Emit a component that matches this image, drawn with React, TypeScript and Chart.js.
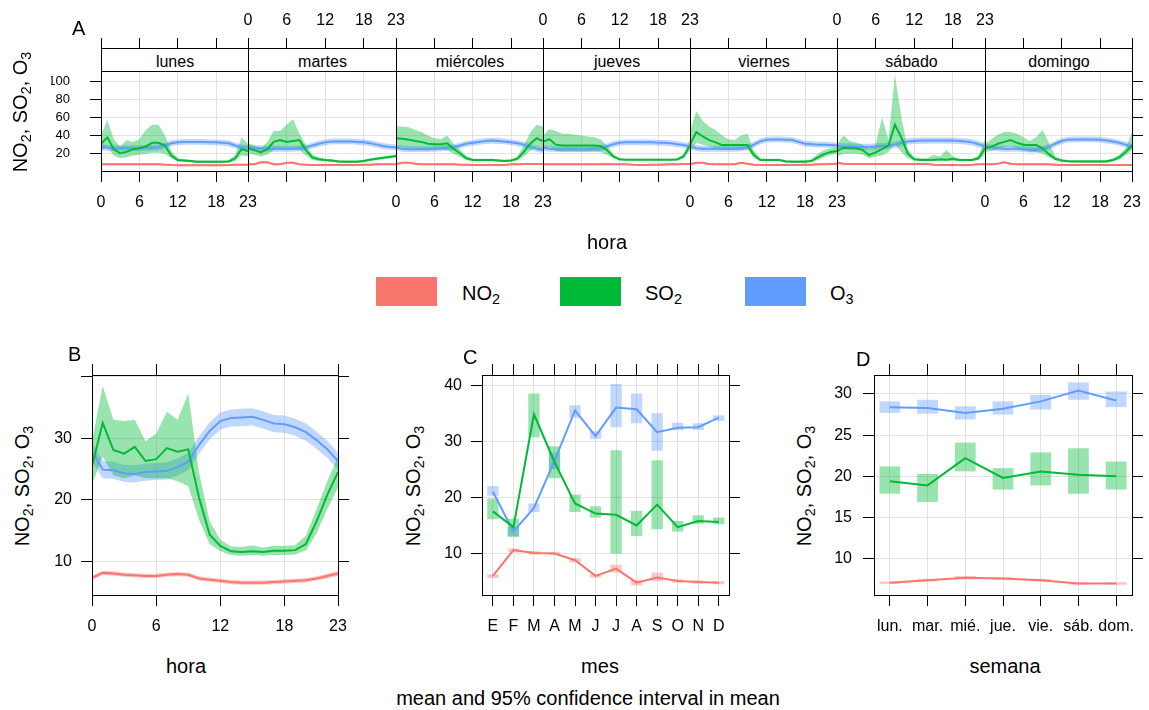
import React, { useEffect, useRef } from "react";
import { Chart, registerables } from "chart.js";

Chart.register(...registerables);

const FONT = "'Liberation Sans', Arial, Helvetica, sans-serif";
Chart.defaults.font.family = FONT;
Chart.defaults.color = "#000";

// ---------- colours ----------
const C_NO2 = "#F8766D";
const C_SO2 = "#00BA38";
const C_O3 = "#619CFF";
const GRID = "#E3E3E3";

// ---------- shared categories / ticks ----------
const hours = [0, 1, 2, 3, 4, 5, 6, 7, 8, 9, 10, 11, 12, 13, 14, 15, 16, 17, 18, 19, 20, 21, 22, 23];
const hourTicks = [0, 6, 12, 18, 23];
const dayNames = ["lunes", "martes", "miércoles", "jueves", "viernes", "sábado", "domingo"];
const aYTicks = [20, 40, 60, 80, 100];
const bYTicks = [10, 20, 30, 40];
const months = ["E", "F", "M", "A", "M", "J", "J", "A", "S", "O", "N", "D"];
const monthPos = [1, 2, 3, 4, 5, 6, 7, 8, 9, 10, 11, 12];
const cYTicks = [10, 20, 30, 40];
const weekDays = ["lun.", "mar.", "mié.", "jue.", "vie.", "sáb.", "dom."];
const weekPos = [1, 2, 3, 4, 5, 6, 7];
const dYTicks = [10, 15, 20, 25, 30];

// ---------- Panel A : hour x day ----------
const aNO2Lun = [8.5, 8.5, 8.5, 8.5, 8.5, 8.5, 8.5, 8.5, 8.5, 8.5, 8, 7.5, 7.3, 7.3, 7.3, 7.3, 7.3, 7.3, 7.3, 7.3, 7.5, 7.8, 8, 8];
const aNO2Mar = [8.5, 8.5, 10.5, 10.5, 8.5, 8.5, 10, 10, 8.5, 8, 7.7, 7.6, 7.6, 7.6, 7.6, 7.6, 7.6, 7.6, 8, 8, 8.5, 8.5, 8.5, 8.5];
const aNO2Mie = [8.8, 10, 10, 9, 8.5, 8.5, 8.5, 8.5, 8.5, 8.5, 8, 7.8, 7.6, 7.6, 7.6, 7.6, 7.6, 7.6, 8.5, 8.5, 8.7, 8.7, 8.7, 8.7];
const aNO2Jue = [8.5, 8.5, 8.5, 8.5, 8.5, 8.5, 8.5, 8.5, 8.5, 8.5, 8.7, 8.5, 8.5, 8.5, 7.8, 7.6, 7.6, 7.8, 8, 8.2, 8.4, 8.5, 8.6, 8.6];
const aNO2Vie = [8.5, 10, 10, 8.7, 8.5, 8.5, 8.5, 8.5, 10, 9, 8, 7.7, 7.6, 7.6, 7.6, 7.6, 7.6, 7.6, 7.8, 8, 8.3, 8.5, 8.7, 9];
const aNO2Sab = [10, 9, 8.7, 8.7, 8.7, 8.7, 8.7, 8.7, 8.7, 8.7, 8.7, 8.7, 8.7, 8.7, 8.7, 8, 7.6, 7.6, 7.6, 7.6, 7.6, 7.8, 8.3, 8.5];
const aNO2Dom = [8.5, 8.5, 9, 10.5, 9, 8.5, 8.5, 8.5, 8.5, 8.5, 8.5, 8, 7.6, 7.6, 7.6, 7.6, 7.6, 7.6, 7.6, 7.6, 7.6, 7.6, 7.6, 7.6];
const aNO2HalfCI = [1.1, 1.1, 1.1, 1.1, 1.1, 1.1, 1.1];

const aSO2Lun = [31, 38, 25, 20.5, 22, 25, 26, 28, 32, 32, 29, 18, 13, 12.5, 12, 11.2, 11.2, 11.2, 11.2, 11.2, 11.5, 15, 25, 23];
const aSO2LoLun = [23, 27, 18, 15, 16, 18, 19, 20, 21, 21, 20, 15, 11.5, 11, 10.5, 10, 10, 10, 10, 10, 10.3, 12, 18, 17];
const aSO2HiLun = [40, 57, 36, 28, 35, 33, 36, 46, 52, 52, 40, 23, 15, 14, 13.5, 12.5, 12.5, 12.5, 12.5, 12.5, 13, 19, 38, 31];
const aSO2Mar = [26, 24, 21.5, 25, 33, 35, 33, 34, 35, 24, 16, 14, 13.1, 12.5, 11.5, 11.3, 11.3, 11.3, 12, 13.5, 14.5, 15.5, 16.5, 17.5];
const aSO2LoMar = [20, 19, 17, 19, 24, 25, 24, 25, 24, 18, 13, 12, 11.8, 11, 10.3, 10.2, 10.2, 10.2, 10.8, 12, 13, 14, 15, 15.5];
const aSO2HiMar = [32, 29, 26, 33, 45, 45, 52, 58, 42, 30, 19, 16, 14.5, 14, 13, 12.8, 12.8, 12.8, 13.5, 15, 16, 17, 18, 19.5];
const aSO2Mie = [37, 36.5, 35.5, 34, 33, 31, 30.5, 30.5, 31.5, 25.5, 20.5, 15, 13.1, 13.1, 13.1, 13.1, 12.5, 12, 12.5, 14.5, 22, 31, 37, 34];
const aSO2LoMie = [28, 27, 26, 26, 25, 24, 24, 24, 24, 20, 16.5, 13, 12, 12, 12, 12, 11.3, 10.8, 11.3, 12.5, 17, 23, 27, 25];
const aSO2HiMie = [50, 50, 49, 46, 44, 40, 37, 36, 40, 31, 25, 17.5, 14.5, 14.5, 14.5, 14.5, 14, 13.5, 14, 17, 29, 43, 52, 50];
const aSO2Jue = [33, 36, 30, 29, 29, 29, 29, 29, 29, 28.5, 24, 17, 13.8, 13.5, 13.5, 13.5, 13.5, 13.5, 13.5, 13.5, 13.5, 13.7, 17, 29];
const aSO2LoJue = [26, 28, 23, 22.5, 22.5, 22.5, 22.5, 22.5, 22.5, 22, 19, 15, 12.5, 12.5, 12.5, 12.5, 12.5, 12.5, 12.5, 12.5, 12.5, 12.5, 15, 23];
const aSO2HiJue = [40, 47, 45, 42, 42, 41, 40, 39, 38, 36, 29, 19.5, 15, 14.5, 14.5, 14.5, 14.5, 14.5, 14.5, 14.5, 14.5, 15, 20, 36];
const aSO2Vie = [30, 44, 39, 35, 32.5, 29.5, 29.5, 29.5, 29.5, 29.5, 18.5, 13.1, 13.1, 13.1, 13.1, 11.5, 11.3, 11.3, 11.3, 12, 16, 19.5, 22, 23];
const aSO2LoVie = [22, 32, 30, 28, 26, 24, 24, 24, 24, 25, 15, 12, 12, 12, 12, 10.5, 10.3, 10.3, 10.5, 11, 13, 16, 18.5, 20];
const aSO2HiVie = [45, 67, 56, 50, 46, 40, 36, 35, 40, 42, 23, 15, 14.5, 14.5, 14.5, 13, 12.8, 12.8, 13, 14, 20, 24, 26, 27];
const aSO2Sab = [23, 26.5, 26, 26, 24, 18.5, 21.5, 25, 29, 52, 38, 20, 14, 13.1, 13.1, 13.1, 14, 13.5, 14.5, 13.1, 13.1, 13.1, 15, 26];
const aSO2LoSab = [17, 20, 20, 20, 19, 15, 17, 18, 22, 30, 22, 15, 12.5, 12, 12, 12, 12, 12, 12, 12, 12, 12, 13, 19];
const aSO2HiSab = [30, 40, 34, 32, 30, 25, 30, 60, 35, 107, 60, 25, 15.5, 15, 15, 19, 17, 24, 17, 14.5, 14.5, 14.5, 18, 36];
const aSO2Dom = [26, 27.5, 31, 33, 35, 32, 30, 29.5, 29.5, 26, 19.5, 14.5, 12.5, 11.7, 11.5, 11.5, 11.5, 11.5, 11.5, 11.5, 13, 16, 22, 29];
const aSO2LoDom = [22, 23, 25, 27, 28, 26, 24, 22, 22, 20, 16, 12.5, 11.3, 10.5, 10.3, 10.3, 10.3, 10.3, 10.3, 10.3, 11.5, 13.5, 18, 24];
const aSO2HiDom = [31, 36, 41, 44, 44, 42, 38, 34, 38, 46, 32, 17, 14, 13, 13, 13, 13, 13, 13, 13, 15, 19, 26, 43];

const aO3Lun = [28, 26.5, 26, 26, 26, 26, 26, 26.5, 26.5, 27, 29, 31.5, 32.5, 33, 33, 33, 33, 32.5, 32.5, 32, 31.5, 29, 27, 26.5];
const aO3Mar = [27, 26, 26, 25.5, 25.5, 25.5, 25.5, 25.5, 26, 27, 29, 31, 32.5, 33.5, 33.5, 33.5, 33.5, 33, 32.5, 31.5, 30, 28.5, 27.5, 27];
const aO3Mie = [27, 25.5, 25, 25, 25, 25, 25.5, 26, 26.5, 27, 29, 31, 32, 33, 34, 34.5, 34, 33.5, 32.5, 31.5, 30, 27.5, 25.5, 24];
const aO3Jue = [26.5, 25.5, 25, 25, 25, 25, 25, 25, 25.5, 26, 28, 30.5, 32, 32.5, 32.5, 32.5, 32.5, 32.5, 32, 32, 31.5, 30.5, 29.5, 28];
const aO3Vie = [28, 26, 25.5, 25.5, 25.5, 25.5, 25.5, 25.5, 26, 27, 30, 33.5, 35.5, 35.7, 35.7, 35.5, 35, 33, 31, 30.5, 30, 30, 29.5, 29];
const aO3Sab = [28.5, 28, 28, 27.5, 27.5, 27.5, 28, 28.5, 29, 30, 32, 33.5, 34, 34.5, 34.5, 34.5, 34.5, 34.5, 34.5, 34, 33.5, 32.5, 30.5, 28];
const aO3Dom = [28, 27, 26, 25.5, 25.5, 25.5, 25, 24.5, 24.5, 25, 27.5, 31, 34, 35.5, 35.7, 35.7, 35.7, 35.7, 35.5, 34.5, 33.5, 32, 30, 28];
const aO3HalfCI = [3.2, 3.2, 3.2, 3.2, 3.2, 3.4, 3.2];

const aNO2 = [aNO2Lun, aNO2Mar, aNO2Mie, aNO2Jue, aNO2Vie, aNO2Sab, aNO2Dom];
const aSO2 = [aSO2Lun, aSO2Mar, aSO2Mie, aSO2Jue, aSO2Vie, aSO2Sab, aSO2Dom];
const aSO2Lo = [aSO2LoLun, aSO2LoMar, aSO2LoMie, aSO2LoJue, aSO2LoVie, aSO2LoSab, aSO2LoDom];
const aSO2Hi = [aSO2HiLun, aSO2HiMar, aSO2HiMie, aSO2HiJue, aSO2HiVie, aSO2HiSab, aSO2HiDom];
const aO3 = [aO3Lun, aO3Mar, aO3Mie, aO3Jue, aO3Vie, aO3Sab, aO3Dom];

// ---------- Panel B : hour ----------
const bNO2 = [7.3, 8.1, 8.0, 7.8, 7.7, 7.6, 7.6, 7.8, 7.9, 7.8, 7.2, 7.0, 6.8, 6.6, 6.5, 6.5, 6.5, 6.6, 6.7, 6.8, 6.9, 7.2, 7.6, 8.0];
const bNO2Lo = [6.95, 7.75, 7.65, 7.45, 7.35, 7.25, 7.25, 7.45, 7.55, 7.45, 6.85, 6.65, 6.45, 6.25, 6.15, 6.15, 6.15, 6.25, 6.35, 6.45, 6.55, 6.85, 7.2, 7.55];
const bNO2Hi = [7.65, 8.45, 8.35, 8.15, 8.05, 7.95, 7.95, 8.15, 8.25, 8.15, 7.55, 7.35, 7.15, 6.95, 6.85, 6.85, 6.85, 6.95, 7.05, 7.15, 7.25, 7.55, 8.0, 8.45];
const bSO2 = [25.5, 32.5, 28.1, 27.5, 28.6, 26.3, 26.6, 28.4, 27.8, 28.2, 20.4, 14.3, 12.5, 11.6, 11.5, 11.6, 11.5, 11.7, 11.7, 11.8, 12.8, 16.5, 20.8, 24.5];
const bSO2Lo = [22.5, 27, 24, 23.5, 24, 23.5, 23.5, 23.5, 23, 22.2, 16.8, 12.8, 11.6, 11, 10.9, 11, 10.9, 11, 11, 11.1, 11.8, 14.5, 18.5, 22];
const bSO2Hi = [29.5, 38.5, 33, 32.8, 33, 29.5, 30.8, 34.3, 33, 37.3, 24.5, 16.5, 13.5, 12.4, 12.3, 12.6, 12.2, 12.5, 12.5, 12.6, 14.2, 18.5, 23, 27];
const bO3 = [27.8, 24.9, 24.8, 24.3, 24.2, 24.5, 24.6, 24.7, 25.3, 26.2, 28.9, 31.2, 32.8, 33.3, 33.4, 33.5, 33.0, 32.4, 32.3, 31.8, 31.0, 29.7, 28.2, 26.3];
const bO3Lo = [26.3, 23.5, 23.4, 22.9, 22.8, 23.1, 23.2, 23.3, 23.9, 24.8, 27.5, 29.8, 31.4, 31.9, 32.0, 32.1, 31.6, 31.0, 30.9, 30.4, 29.6, 28.3, 26.8, 24.9];
const bO3Hi = [29.3, 26.3, 26.2, 25.7, 25.6, 25.9, 26.0, 26.1, 26.7, 27.6, 30.3, 32.6, 34.2, 34.7, 34.8, 34.9, 34.4, 33.8, 33.7, 33.2, 32.4, 31.1, 29.6, 27.7];

// ---------- Panel C : month ----------
const cNO2 = [6.0, 10.6, 10.1, 10.0, 8.8, 6.0, 7.3, 4.8, 5.7, 5.1, 4.9, 4.8];
const cNO2Lo = [5.6, 10.2, 9.8, 9.7, 8.4, 5.7, 6.6, 4.3, 5.1, 4.8, 4.6, 4.5];
const cNO2Hi = [6.3, 10.9, 10.4, 10.3, 9.2, 6.3, 8.0, 5.3, 6.6, 5.4, 5.2, 5.1];
const cSO2 = [17.5, 14.7, 34.8, 26.3, 18.9, 17.1, 16.9, 15.0, 18.7, 14.7, 15.8, 15.6];
const cSO2Lo = [16.1, 13.0, 30.7, 23.4, 17.4, 16.4, 10.0, 13.1, 14.3, 13.9, 15.3, 15.2];
const cSO2Hi = [19.8, 16.2, 38.5, 29.1, 20.5, 18.4, 28.4, 17.6, 26.6, 15.8, 16.8, 16.4];
const cO3 = [21.0, 13.9, 18.1, 26.5, 35.5, 30.9, 36.0, 35.7, 31.6, 32.4, 32.5, 34.2];
const cO3Lo = [20.3, 13.0, 17.4, 25.0, 34.2, 30.4, 32.5, 33.2, 28.3, 32.0, 32.0, 33.6];
const cO3Hi = [22.0, 14.8, 18.9, 28.0, 36.4, 31.8, 40.2, 38.5, 35.0, 33.3, 33.2, 34.6];

// ---------- Panel D : weekday ----------
const dNO2 = [7.1, 7.4, 7.7, 7.6, 7.4, 7.0, 7.0];
const dNO2Lo = [6.95, 7.25, 7.5, 7.45, 7.25, 6.85, 6.85];
const dNO2Hi = [7.25, 7.55, 7.9, 7.75, 7.55, 7.15, 7.15];
const dSO2 = [19.4, 18.9, 22.2, 19.8, 20.6, 20.2, 20.0];
const dSO2Lo = [17.9, 16.9, 20.6, 18.4, 18.9, 17.9, 18.4];
const dSO2Hi = [21.2, 20.3, 24.1, 21.0, 22.9, 23.4, 21.8];
const dO3 = [28.4, 28.3, 27.7, 28.2, 29.1, 30.4, 29.2];
const dO3Lo = [27.7, 27.6, 26.9, 27.5, 28.1, 29.3, 28.4];
const dO3Hi = [29.1, 29.3, 28.5, 29.1, 29.9, 31.4, 30.3];

// ---------- helpers ----------
type Ser = { label: string; mean: number[]; lo: number[]; hi: number[]; color: string };

const rgba = (hex: string, a: number) => {
  const n = parseInt(hex.slice(1), 16);
  return `rgba(${(n >> 16) & 255},${(n >> 8) & 255},${n & 255},${a})`;
};
const pts = (xs: number[], ys: number[]) => xs.map((x, i) => ({ x, y: ys[i] }));

function buildSets(xs: number[], series: Ser[], mode: "band" | "box") {
  const lines: any[] = series.map((s) => ({
    type: "line",
    label: s.label,
    data: pts(xs, s.mean),
    borderColor: s.color,
    backgroundColor: s.color,
    borderWidth: 2,
    pointRadius: 0,
    fill: false,
    tension: 0,
    order: 0,
    xAxisID: "x",
    yAxisID: "y",
  }));
  const shades: any[] = [];
  series.forEach((s) => {
    if (mode === "band") {
      shades.push({
        type: "line",
        label: s.label + " upper",
        data: pts(xs, s.hi),
        borderWidth: 0,
        pointRadius: 0,
        fill: "+1",
        backgroundColor: rgba(s.color, 0.4),
        tension: 0,
        order: 1,
        xAxisID: "x",
        yAxisID: "y",
      });
      shades.push({
        type: "line",
        label: s.label + " lower",
        data: pts(xs, s.lo),
        borderWidth: 0,
        pointRadius: 0,
        fill: false,
        tension: 0,
        order: 1,
        xAxisID: "x",
        yAxisID: "y",
      });
    } else {
      shades.push({
        type: "bar",
        label: s.label + " ci",
        data: xs.map((x, i) => ({ x, y: [s.lo[i], s.hi[i]] })),
        backgroundColor: rgba(s.color, 0.4),
        borderWidth: 0,
        grouped: false,
        barPercentage: 0.55,
        categoryPercentage: 1,
        order: 1,
        xAxisID: "x",
        yAxisID: "y",
      });
    }
  });
  return [...lines, ...shades];
}

type PanelOpts = {
  xs: number[];
  xMin: number;
  xMax: number;
  xTicks: number[];
  xLabel: (v: number) => string;
  yMin: number;
  yMax: number;
  yTicks: number[];
  yLabel: (v: number) => string;
  series: Ser[];
  mode: "band" | "box";
  ml: number;
  mr: number;
  mt: number;
  mb: number;
  leftTicks: boolean;
  leftLabels: boolean;
  rightTicks: boolean;
  topTickLen: number;
  topLabels: boolean;
  bottomLabels: boolean;
  yFont: number;
  yPad: number;
  topPad: number;
  bottomPad: number;
};

function makeConfig(o: PanelOpts): any {
  const fit = (size: number) => (s: any) => {
    if (s.isHorizontal()) s.height = size;
    else s.width = size;
    s.paddingLeft = 0;
    s.paddingRight = 0;
    s.paddingTop = 0;
    s.paddingBottom = 0;
  };
  const setT = (vals: number[]) => (s: any) => {
    s.ticks = vals.map((v) => ({ value: v }));
  };
  const grid = (drawTicks: boolean, len: number, onArea: boolean) => ({
    display: true,
    drawOnChartArea: onArea,
    color: GRID,
    lineWidth: 1,
    offset: false,
    drawTicks,
    tickLength: len,
    tickColor: "#000",
    tickWidth: 1,
  });
  const border = { display: true, color: "#000", width: 1, z: 1 };
  return {
    type: o.mode === "box" ? "bar" : "line",
    data: { datasets: buildSets(o.xs, o.series, o.mode) },
    options: {
      responsive: false,
      maintainAspectRatio: false,
      animation: false,
      devicePixelRatio: 1,
      events: [],
      layout: { padding: 0 },
      plugins: { legend: { display: false }, tooltip: { enabled: false }, title: { display: false } },
      scales: {
        x: {
          type: "linear",
          position: "bottom",
          min: o.xMin,
          max: o.xMax,
          offset: false,
          afterBuildTicks: setT(o.xTicks),
          afterFit: fit(o.mb),
          grid: grid(true, 11, true),
          border,
          ticks: {
            display: o.bottomLabels,
            autoSkip: false,
            maxRotation: 0,
            minRotation: 0,
            padding: o.bottomPad,
            font: { size: 16 },
            color: "#000",
            callback: (v: any) => o.xLabel(Number(v)),
          },
        },
        y: {
          type: "linear",
          position: "left",
          min: o.yMin,
          max: o.yMax,
          afterBuildTicks: setT(o.yTicks),
          afterFit: fit(o.ml),
          grid: grid(o.leftTicks, 11, true),
          border,
          ticks: {
            display: o.leftLabels,
            autoSkip: false,
            padding: o.yPad,
            font: { size: o.yFont },
            color: "#000",
            callback: (v: any) => o.yLabel(Number(v)),
          },
        },
        xT: {
          type: "linear",
          position: "top",
          min: o.xMin,
          max: o.xMax,
          offset: false,
          afterBuildTicks: setT(o.xTicks),
          afterFit: fit(o.mt),
          grid: grid(true, o.topTickLen, false),
          border,
          ticks: {
            display: o.topLabels,
            autoSkip: false,
            maxRotation: 0,
            minRotation: 0,
            padding: o.topPad,
            font: { size: 16 },
            color: "#000",
            callback: (v: any) => o.xLabel(Number(v)),
          },
        },
        yR: {
          type: "linear",
          position: "right",
          min: o.yMin,
          max: o.yMax,
          afterBuildTicks: setT(o.yTicks),
          afterFit: fit(o.mr),
          grid: grid(o.rightTicks, 11, false),
          border,
          ticks: { display: false },
        },
      },
    },
  };
}

function ChartCanvas(props: { left: number; top: number; width: number; height: number; config: any }) {
  const ref = useRef<HTMLCanvasElement>(null);
  const { left, top, width, height, config } = props;
  useEffect(() => {
    const chart = new Chart(ref.current as HTMLCanvasElement, config);
    return () => chart.destroy();
  }, []);
  return (
    <canvas
      ref={ref}
      width={width}
      height={height}
      style={{ position: "absolute", left, top, width, height }}
    />
  );
}

// text helpers: y is the baseline
function Txt(props: { x: number; y: number; size: number; center?: boolean; children: any }) {
  const { x, y, size, center, children } = props;
  return (
    <div
      style={{
        position: "absolute",
        left: x,
        top: y - 0.8465 * size,
        fontSize: size,
        lineHeight: `${size}px`,
        whiteSpace: "nowrap",
        fontFamily: FONT,
        color: "#000",
        transform: center ? "translateX(-50%)" : undefined,
      }}
    >
      {children}
    </div>
  );
}

const subStyle = { fontSize: "0.72em", verticalAlign: "-0.3em", lineHeight: 0 } as const;
const PollTitle = () => (
  <span>
    NO<sub style={subStyle}>2</sub>, SO<sub style={subStyle}>2</sub>, O<sub style={subStyle}>3</sub>
  </span>
);

function YTitle(props: { cx: number; cy: number }) {
  return (
    <div
      style={{
        position: "absolute",
        left: props.cx,
        top: props.cy,
        fontSize: 20,
        lineHeight: "20px",
        whiteSpace: "nowrap",
        fontFamily: FONT,
        color: "#000",
        transform: "translate(-50%, -50%) rotate(-90deg)",
      }}
    >
      <PollTitle />
    </div>
  );
}

// ---------- layout constants ----------
const A_LEFTS = [101, 248, 396, 543, 690, 837, 985, 1132];
const A_STRIP_TOP = 48;
const A_TOP = 71;
const A_BOTTOM = 171;
const A_ML = 50;
const A_MR = 14;
const A_MB = 44;

export default function App() {
  const aCharts = dayNames.map((name, i) => {
    const w = A_LEFTS[i + 1] - A_LEFTS[i];
    const series: Ser[] = [
      { label: "NO2", mean: aNO2[i], lo: aNO2[i].map((v) => v - aNO2HalfCI[i]), hi: aNO2[i].map((v) => v + aNO2HalfCI[i]), color: C_NO2 },
      { label: "SO2", mean: aSO2[i], lo: aSO2Lo[i], hi: aSO2Hi[i], color: C_SO2 },
      { label: "O3", mean: aO3[i], lo: aO3[i].map((v) => v - aO3HalfCI[i]), hi: aO3[i].map((v) => v + aO3HalfCI[i]), color: C_O3 },
    ];
    const cfg = makeConfig({
      xs: hours,
      xMin: 0,
      xMax: 23,
      xTicks: hourTicks,
      xLabel: (v) => String(v),
      yMin: 1,
      yMax: 111,
      yTicks: aYTicks,
      yLabel: (v) => String(v),
      series,
      mode: "band",
      ml: A_ML,
      mr: A_MR,
      mt: A_TOP,
      mb: A_MB,
      leftTicks: i === 0,
      leftLabels: i === 0,
      rightTicks: i === 6,
      topTickLen: A_TOP - 38,
      topLabels: i % 2 === 1,
      bottomLabels: i % 2 === 0,
      yFont: 13,
      yPad: 20,
      topPad: 8,
      bottomPad: 11,
    });
    return (
      <ChartCanvas
        key={name}
        left={A_LEFTS[i] - A_ML}
        top={0}
        width={w + A_ML + A_MR}
        height={A_BOTTOM + A_MB}
        config={cfg}
      />
    );
  });

  const strips = dayNames.map((name, i) => (
    <div
      key={"s" + name}
      style={{
        position: "absolute",
        left: A_LEFTS[i],
        top: A_STRIP_TOP,
        width: A_LEFTS[i + 1] - A_LEFTS[i] + 1,
        height: A_TOP - A_STRIP_TOP + 1,
        boxSizing: "border-box",
        border: "1px solid #000",
        background: "#fff",
        fontFamily: FONT,
        fontSize: 16,
        lineHeight: "22px",
        paddingTop: 2,
        textAlign: "center",
        color: "#000",
        overflow: "hidden",
      }}
    >
      {name}
    </div>
  ));

  const bCfg = makeConfig({
    xs: hours,
    xMin: 0,
    xMax: 23,
    xTicks: hourTicks,
    xLabel: (v) => String(v),
    yMin: 4.5,
    yMax: 40.3,
    yTicks: bYTicks,
    yLabel: (v) => (v === 40 ? "" : String(v)),
    series: [
      { label: "NO2", mean: bNO2, lo: bNO2Lo, hi: bNO2Hi, color: C_NO2 },
      { label: "SO2", mean: bSO2, lo: bSO2Lo, hi: bSO2Hi, color: C_SO2 },
      { label: "O3", mean: bO3, lo: bO3Lo, hi: bO3Hi, color: C_O3 },
    ],
    mode: "band",
    ml: 52,
    mr: 14,
    mt: 12,
    mb: 48,
    leftTicks: true,
    leftLabels: true,
    rightTicks: true,
    topTickLen: 11,
    topLabels: false,
    bottomLabels: true,
    yFont: 16,
    yPad: 9,
    topPad: 8,
    bottomPad: 11,
  });

  const cCfg = makeConfig({
    xs: monthPos,
    xMin: 0.47,
    xMax: 12.5,
    xTicks: monthPos,
    xLabel: (v) => months[v - 1] ?? "",
    yMin: 2.6,
    yMax: 41.8,
    yTicks: cYTicks,
    yLabel: (v) => String(v),
    series: [
      { label: "NO2", mean: cNO2, lo: cNO2Lo, hi: cNO2Hi, color: C_NO2 },
      { label: "SO2", mean: cSO2, lo: cSO2Lo, hi: cSO2Hi, color: C_SO2 },
      { label: "O3", mean: cO3, lo: cO3Lo, hi: cO3Hi, color: C_O3 },
    ],
    mode: "box",
    ml: 52,
    mr: 14,
    mt: 12,
    mb: 48,
    leftTicks: true,
    leftLabels: true,
    rightTicks: true,
    topTickLen: 11,
    topLabels: false,
    bottomLabels: true,
    yFont: 16,
    yPad: 9,
    topPad: 8,
    bottomPad: 11,
  });

  const dCfg = makeConfig({
    xs: weekPos,
    xMin: 0.58,
    xMax: 7.42,
    xTicks: weekPos,
    xLabel: (v) => weekDays[v - 1] ?? "",
    yMin: 5.6,
    yMax: 32.3,
    yTicks: dYTicks,
    yLabel: (v) => String(v),
    series: [
      { label: "NO2", mean: dNO2, lo: dNO2Lo, hi: dNO2Hi, color: C_NO2 },
      { label: "SO2", mean: dSO2, lo: dSO2Lo, hi: dSO2Hi, color: C_SO2 },
      { label: "O3", mean: dO3, lo: dO3Lo, hi: dO3Hi, color: C_O3 },
    ],
    mode: "box",
    ml: 52,
    mr: 14,
    mt: 12,
    mb: 48,
    leftTicks: true,
    leftLabels: true,
    rightTicks: true,
    topTickLen: 11,
    topLabels: false,
    bottomLabels: true,
    yFont: 16,
    yPad: 11,
    topPad: 8,
    bottomPad: 11,
  });

  const legendItems = [
    { name: "NO", sub: "2", color: C_NO2, rx: 376, tx: 462 },
    { name: "SO", sub: "2", color: C_SO2, rx: 560, tx: 645 },
    { name: "O", sub: "3", color: C_O3, rx: 745, tx: 830 },
  ];

  return (
    <div
      style={{
        position: "absolute",
        left: 0,
        top: 0,
        width: 1149,
        height: 710,
        background: "#fff",
        overflow: "hidden",
        fontFamily: FONT,
      }}
    >
      {aCharts}
      {strips}
      <ChartCanvas left={40} top={363} width={312} height={280} config={bCfg} />
      <ChartCanvas left={430} top={363} width={313} height={280} config={cCfg} />
      <ChartCanvas left={822} top={363} width={324} height={280} config={dCfg} />

      <Txt x={72} y={35} size={20}>A</Txt>
      <Txt x={68} y={361} size={20}>B</Txt>
      <Txt x={463} y={364} size={20}>C</Txt>
      <Txt x={856} y={366} size={20}>D</Txt>

      <YTitle cx={20} cy={112} />
      <YTitle cx={22} cy={486} />
      <YTitle cx={413} cy={486} />
      <YTitle cx={804} cy={486} />

      <Txt x={607} y={249} size={20} center>hora</Txt>
      <Txt x={186} y={673} size={20} center>hora</Txt>
      <Txt x={600} y={673} size={20} center>mes</Txt>
      <Txt x={1005} y={673} size={20} center>semana</Txt>
      <Txt x={588} y={705} size={20} center>mean and 95% confidence interval in mean</Txt>

      {legendItems.map((it) => (
        <React.Fragment key={it.name + it.sub}>
          <div
            style={{
              position: "absolute",
              left: it.rx,
              top: 277,
              width: 61,
              height: 29,
              background: it.color,
            }}
          />
          <Txt x={it.tx} y={300} size={20}>
            {it.name}
            <sub style={subStyle}>{it.sub}</sub>
          </Txt>
        </React.Fragment>
      ))}
    </div>
  );
}
